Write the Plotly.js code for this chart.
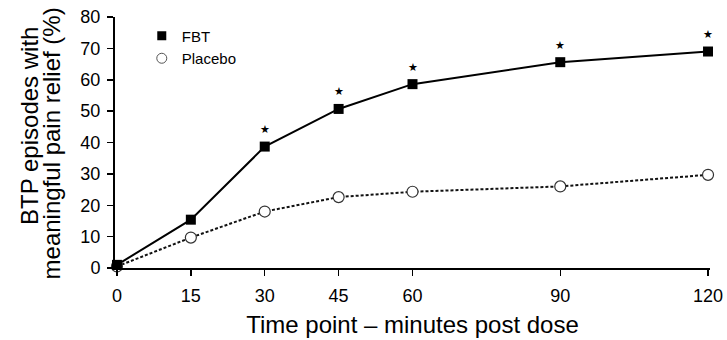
<!DOCTYPE html>
<html>
<head>
<meta charset="utf-8">
<script src="https://cdn.plot.ly/plotly-3.0.1.min.js"></script>
<style>
  html, body { margin: 0; padding: 0; background: #fff; }
  #chart { width: 727px; height: 340px; }
</style>
</head>
<body>
<div id="chart"></div>
<script>
// ---- data ----
var timePoints = [0, 15, 30, 45, 60, 90, 120];
var fbtValues = [1.0, 15.4, 38.7, 50.7, 58.6, 65.6, 69.0];
var placeboValues = [0.5, 9.7, 18.0, 22.6, 24.3, 26.0, 29.7];
var significant = [false, false, true, true, true, true, true];
var xTickLabels = ['0', '15', '30', '45', '60', '90', '120'];
var seriesNames = ['FBT', 'Placebo'];
var xTitle = 'Time point \u2013 minutes post dose';
var yTitleLines = ['BTP episodes with', 'meaningful pain relief (%)'];

var FONT = 'Arial, "Liberation Sans", Helvetica, sans-serif';

var traces = [
  {
    x: timePoints, y: placeboValues, type: 'scatter', mode: 'lines+markers',
    name: seriesNames[1], showlegend: false, cliponaxis: false,
    line: {color: '#111', width: 2, dash: '3px,2px'},
    marker: {symbol: 'circle', size: 11, color: '#fff', line: {color: '#333', width: 1.2}}
  },
  {
    x: timePoints, y: fbtValues, type: 'scatter', mode: 'lines+markers',
    name: seriesNames[0], showlegend: false, cliponaxis: false,
    line: {color: '#000', width: 2},
    marker: {symbol: 'square', size: 10, color: '#000'}
  },
  // legend-only entries (marker only, as in the reference legend)
  {
    x: [null], y: [null], type: 'scatter', mode: 'markers', name: seriesNames[0],
    marker: {symbol: 'square', size: 9, color: '#000'}
  },
  {
    x: [null], y: [null], type: 'scatter', mode: 'markers', name: seriesNames[1],
    marker: {symbol: 'circle', size: 10, color: '#fff', line: {color: '#555', width: 1}}
  }
];

var annotations = [];
timePoints.forEach(function (t, i) {
  if (significant[i]) {
    annotations.push({
      x: t, y: fbtValues[i], xref: 'x', yref: 'y', text: '\u2605',
      showarrow: false, yshift: 17, font: {family: '"DejaVu Sans", sans-serif', size: 11, color: '#000'}
    });
  }
});
// two-line y title
annotations.push({
  xref: 'paper', yref: 'paper', x: -0.145, y: 0.565, text: yTitleLines[0],
  textangle: -90, showarrow: false, xanchor: 'center', yanchor: 'middle',
  font: {family: FONT, size: 24, color: '#000'}
});
annotations.push({
  xref: 'paper', yref: 'paper', x: -0.106, y: 0.496, text: yTitleLines[1],
  textangle: -90, showarrow: false, xanchor: 'center', yanchor: 'middle',
  font: {family: FONT, size: 24, color: '#000'}
});

var layout = {
  width: 727, height: 340,
  margin: {l: 115, r: 17, t: 17, b: 72, pad: 0},
  paper_bgcolor: '#fff', plot_bgcolor: '#fff',
  font: {family: FONT, color: '#000'},
  showlegend: true,
  legend: {
    x: 0.045, y: 0.99, xanchor: 'left', yanchor: 'top',
    bgcolor: 'rgba(0,0,0,0)', borderwidth: 0,
    font: {family: FONT, size: 15, color: '#000'},
    tracegroupgap: 0, itemwidth: 30
  },
  xaxis: {
    range: [-0.4, 120.4], tickmode: 'array', tickvals: timePoints, ticktext: xTickLabels,
    showline: true, linecolor: '#000', linewidth: 2, showgrid: false, zeroline: false,
    ticks: 'outside', ticklen: 6, tickwidth: 1.5, tickcolor: '#000', ticklabelstandoff: 4,
    tickfont: {family: FONT, size: 18, color: '#000'},
    title: {text: xTitle, font: {family: FONT, size: 24, color: '#000'}, standoff: 12}
  },
  yaxis: {
    range: [0, 80], tickmode: 'linear', tick0: 0, dtick: 10,
    showline: true, linecolor: '#000', linewidth: 2, showgrid: false, zeroline: false,
    ticks: 'outside', ticklen: 6, tickwidth: 1.5, tickcolor: '#000', ticklabelstandoff: 3,
    tickfont: {family: FONT, size: 18, color: '#000'}
  },
  annotations: annotations
};

Plotly.newPlot('chart', traces, layout, {staticPlot: true, displayModeBar: false});
</script>
</body>
</html>
